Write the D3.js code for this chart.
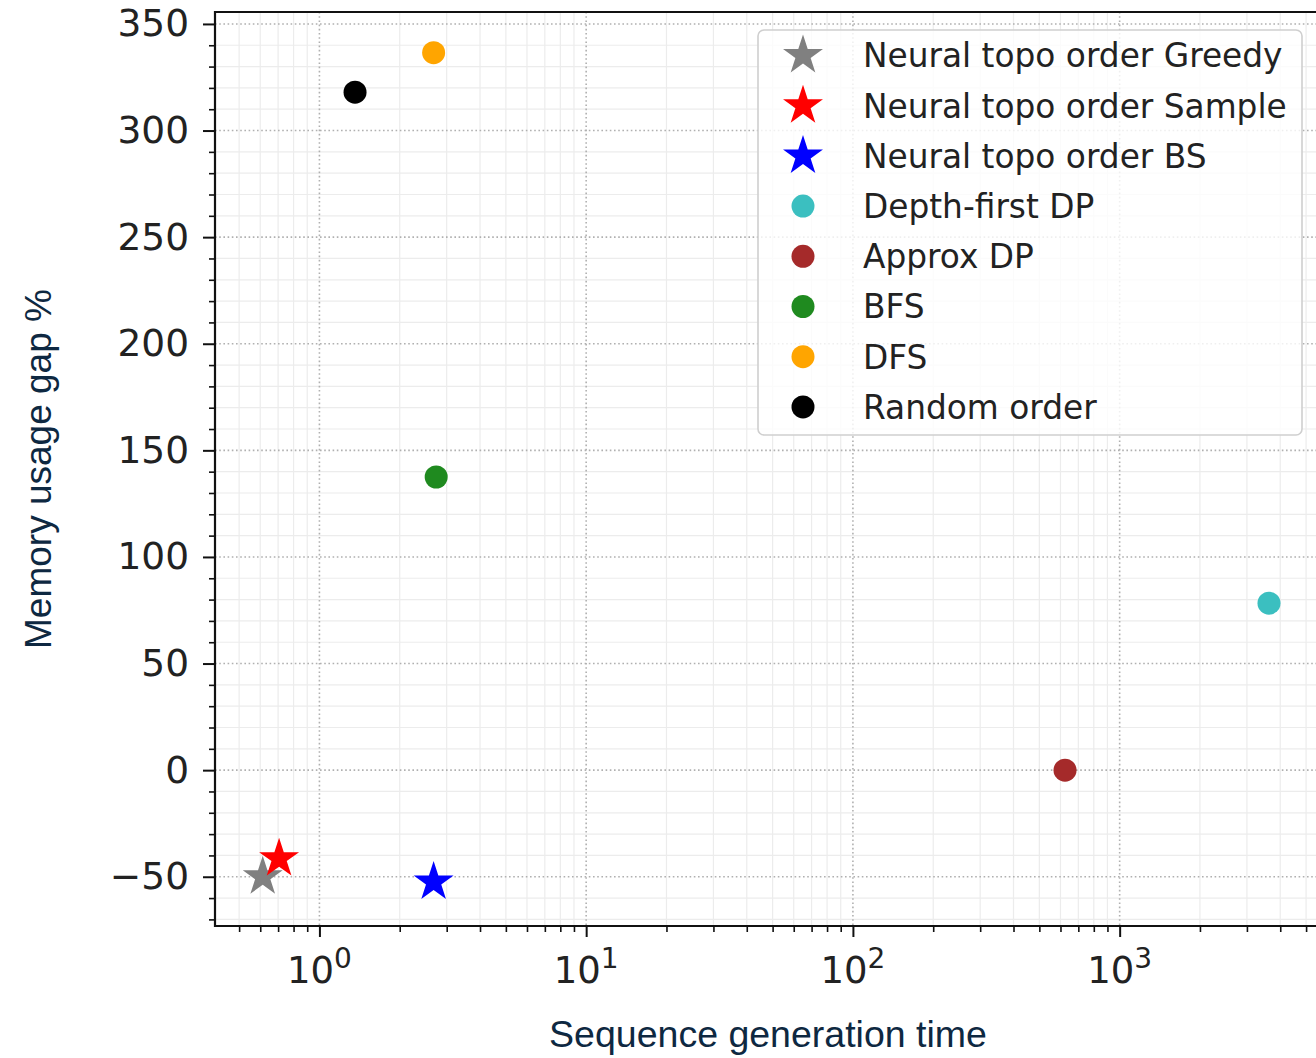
<!DOCTYPE html>
<html>
<head>
<meta charset="utf-8">
<script src="https://cdn.jsdelivr.net/npm/d3@7"></script>
<style>
  body { margin: 0; background: white; }
</style>
</head>
<body>
<script>
// data
let methods = ["Neural topo order Greedy", "Neural topo order Sample", "Neural topo order BS",
               "Depth-first DP", "Approx DP", "BFS", "DFS", "Random order"];
let times = [0.613, 0.706, 2.68, 3630, 624, 2.74, 2.68, 1.36];
let gaps = [-50, -41.5, -52.5, 78.3, 0, 137.5, 336.5, 318];
let colors = ["#808080", "#ff0000", "#0000ff", "#3bbfc0", "#a52a2a", "#1f8a1f", "#ffa500", "#000000"];
let shapes = ["star", "star", "star", "circle", "circle", "circle", "circle", "circle"];

let yTicks = [-50, 0, 50, 100, 150, 200, 250, 300, 350];
let xTicks = [1, 10, 100, 1000];

let W = 1316, H = 1058;
let mLeft = 215, mRight = 1340, mTop = 12, mBottom = 926;

let x = d3.scaleLog().domain([0.406, 6700]).range([mLeft, mRight]);
let y = d3.scaleLinear().domain([-73.1, 355.6]).range([mBottom, mTop]);

let viz = d3.select("body")
              .append("svg")
                .attr("width", W)
                .attr("height", H)
                .style("background-color", "white")
;

// minor ticks
let yMinor = d3.range(-70, 356, 10).filter(v => yTicks.indexOf(v) < 0);
let xMinor = [];
for (let e = -1; e <= 3; e++){
  for (let k = 2; k <= 9; k++){
    let v = k * Math.pow(10, e);
    if (v > x.domain()[0] && v < x.domain()[1]) xMinor.push(v);
  }
}

// grid
let grid = viz.append("g");
grid.selectAll(".ymin").data(yMinor).enter()
  .append("line")
    .attr("x1", mLeft).attr("x2", mRight)
    .attr("y1", d => y(d)).attr("y2", d => y(d))
    .attr("stroke", "#ececec").attr("stroke-width", 1.2)
;
grid.selectAll(".xmin").data(xMinor).enter()
  .append("line")
    .attr("x1", d => x(d)).attr("x2", d => x(d))
    .attr("y1", mTop).attr("y2", mBottom)
    .attr("stroke", "#ececec").attr("stroke-width", 1.2)
;
grid.selectAll(".ymaj").data(yTicks).enter()
  .append("line")
    .attr("x1", mLeft).attr("x2", mRight)
    .attr("y1", d => y(d)).attr("y2", d => y(d))
    .attr("stroke", "#b0b0b0").attr("stroke-width", 1.6)
    .attr("stroke-dasharray", "1.6,2.6")
;
grid.selectAll(".xmaj").data(xTicks).enter()
  .append("line")
    .attr("x1", d => x(d)).attr("x2", d => x(d))
    .attr("y1", mTop).attr("y2", mBottom)
    .attr("stroke", "#b0b0b0").attr("stroke-width", 1.6)
    .attr("stroke-dasharray", "1.6,2.6")
;

// points
let star = d3.symbol().type(d3.symbolStar).size(495);
let pts = viz.append("g");
for (let i = 0; i < methods.length; i++){
  if (shapes[i] == "star"){
    pts.append("path")
      .attr("d", star())
      .attr("transform", "translate(" + x(times[i]) + "," + y(gaps[i]) + ")")
      .attr("fill", colors[i])
    ;
  } else {
    pts.append("circle")
      .attr("cx", x(times[i]))
      .attr("cy", y(gaps[i]))
      .attr("r", 11.5)
      .attr("fill", colors[i])
    ;
  }
}

// spines
viz.append("line").attr("x1", mLeft).attr("x2", mLeft).attr("y1", mTop - 1).attr("y2", mBottom + 1)
  .attr("stroke", "#111").attr("stroke-width", 2.2);
viz.append("line").attr("x1", mLeft).attr("x2", W).attr("y1", mBottom).attr("y2", mBottom)
  .attr("stroke", "#111").attr("stroke-width", 2.2);
viz.append("line").attr("x1", mLeft).attr("x2", W).attr("y1", mTop).attr("y2", mTop)
  .attr("stroke", "#111").attr("stroke-width", 2.2);

// y axis
let yAxis = d3.axisLeft(y).tickValues(yTicks).tickSize(12).tickPadding(14)
  .tickFormat(d => d < 0 ? "\u2212" + Math.abs(d) : d);
let ya = viz.append("g").attr("transform", "translate(" + mLeft + ",0)").call(yAxis);
ya.select(".domain").remove();
ya.selectAll(".tick line").attr("stroke", "#111").attr("stroke-width", 2);
ya.selectAll(".tick text")
  .attr("font-family", "DejaVu Sans")
  .attr("font-size", 37.5)
  .attr("fill", "#222")
;
let yMinAxis = d3.axisLeft(y).tickValues(yMinor).tickSize(6).tickFormat("");
let ym = viz.append("g").attr("transform", "translate(" + mLeft + ",0)").call(yMinAxis);
ym.select(".domain").remove();
ym.selectAll(".tick line").attr("stroke", "#111").attr("stroke-width", 1.6);

// x axis
let xAxis = d3.axisBottom(x).tickValues(xTicks).tickSize(11).tickFormat("");
let xa = viz.append("g").attr("transform", "translate(0," + mBottom + ")").call(xAxis);
xa.select(".domain").remove();
xa.selectAll(".tick line").attr("stroke", "#111").attr("stroke-width", 2);
let xMinAxis = d3.axisBottom(x).tickValues(xMinor).tickSize(6).tickFormat("");
let xm = viz.append("g").attr("transform", "translate(0," + mBottom + ")").call(xMinAxis);
xm.select(".domain").remove();
xm.selectAll(".tick line").attr("stroke", "#111").attr("stroke-width", 1.6);

let xl = viz.append("g").selectAll("text").data(xTicks).enter()
  .append("text")
    .attr("x", d => x(d))
    .attr("y", 983)
    .attr("text-anchor", "middle")
    .attr("font-family", "DejaVu Sans")
    .attr("font-size", 37)
    .attr("fill", "#222")
;
xl.append("tspan").text("10");
xl.append("tspan").attr("dy", -15).attr("font-size", 28).text(d => Math.round(Math.log10(d)));

// axis titles
viz.append("text")
  .attr("x", 768).attr("y", 1047)
  .attr("text-anchor", "middle")
  .attr("font-family", "Liberation Sans, Arial, sans-serif")
  .attr("font-size", 37.5)
  .attr("fill", "#0e2841")
  .text("Sequence generation time")
;
viz.append("text")
  .attr("transform", "translate(51,469) rotate(-90)")
  .attr("text-anchor", "middle")
  .attr("font-family", "Liberation Sans, Arial, sans-serif")
  .attr("font-size", 37)
  .attr("fill", "#0e2841")
  .text("Memory usage gap %")
;

// legend
let leg = viz.append("g");
leg.append("rect")
  .attr("x", 758).attr("y", 30)
  .attr("width", 544).attr("height", 405)
  .attr("rx", 6)
  .attr("fill", "white").attr("fill-opacity", 0.8)
  .attr("stroke", "#cfcfcf").attr("stroke-width", 1.6)
;
let rows = leg.selectAll(".row").data(methods).enter()
  .append("g")
    .attr("transform", (d, i) => "translate(0," + (55.5 + i * 50.2) + ")")
;
rows.each(function(d, i){
  let g = d3.select(this);
  if (shapes[i] == "star"){
    g.append("path").attr("d", star()).attr("transform", "translate(803,0)").attr("fill", colors[i]);
  } else {
    g.append("circle").attr("cx", 803).attr("cy", 0).attr("r", 11.5).attr("fill", colors[i]);
  }
});
rows.append("text")
  .attr("x", 863)
  .attr("y", 0)
  .attr("dy", "0.36em")
  .attr("font-family", "DejaVu Sans")
  .attr("font-size", 32.8)
  .attr("fill", "#222")
  .text(d => d)
;
</script>
</body>
</html>
